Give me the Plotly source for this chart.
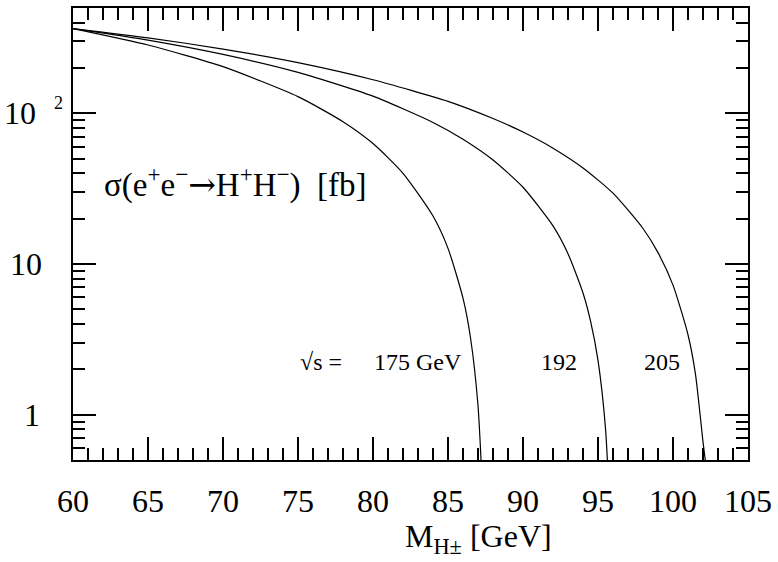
import plotly.graph_objects as go

# M_H+- [GeV] and sigma [fb] for the three c.m. energies
m_175 = [60, 65, 70, 75, 78, 80, 82, 84, 85, 86, 86.5, 87, 87.3]
s_175 = [365, 284, 204, 129, 88, 63, 40, 20.8, 12.7, 5.93, 3.24, 1.15, 0.31]

m_192 = [60, 65, 70, 75, 80, 84, 86, 88, 90, 92, 93, 94, 94.5, 95, 95.5, 95.8]
s_192 = [365, 306, 246, 187, 130, 87, 67.3, 49.0, 32.3, 17.9, 11.7, 6.42, 4.19, 2.29, 0.81, 0.216]

m_205 = [60, 65, 70, 75, 80, 85, 88, 90, 92, 94, 96, 98, 99, 100, 101, 101.5, 102, 102.2]
s_205 = [365, 317, 267, 217, 167, 120, 92.3, 75.1, 58.7, 43.4, 29.5, 17.2, 11.9, 7.24, 3.39, 1.85, 0.66, 0.456]

x_ticks = [60, 65, 70, 75, 80, 85, 90, 95, 100, 105]
x_minor = list(range(60, 106))
y_major = [1, 10, 100]
y_minor = [0.6, 0.7, 0.8, 0.9, 2, 3, 4, 5, 6, 7, 8, 9, 20, 30, 40, 50, 60, 70, 80, 90, 200, 300, 400]
energy_labels = ["175 GeV", "192", "205"]

FONT = "Liberation Serif, Times New Roman, serif"

fig = go.Figure()
for m, s in [(m_175, s_175), (m_192, s_192), (m_205, s_205)]:
    fig.add_trace(go.Scatter(x=m, y=s, mode="lines",
                             line=dict(color="black", width=1.2, shape="spline", smoothing=0.6),
                             hoverinfo="skip"))

W0, W1 = 72.7, 752.7
T0, T1 = 6, 460
def px(xp):
    return (xp - W0) / (W1 - W0)
def py(yp):
    return 1 - (yp - T0) / (T1 - T0)

fig.update_layout(
    width=778, height=562,
    margin=dict(l=73, r=25, t=6, b=102),
    plot_bgcolor="white", paper_bgcolor="white",
    showlegend=False,
    font=dict(family=FONT, color="black"),
    xaxis=dict(range=[60, 105], tickvals=x_ticks, ticks="inside", ticklen=23, tickwidth=2,
               tickcolor="black", showline=True, linewidth=2, linecolor="black", mirror="ticks",
               showgrid=False, zeroline=False, tickfont=dict(size=32, family=FONT),
               ticklabelstandoff=12,
               minor=dict(tickvals=x_minor, ticks="inside", ticklen=12, tickwidth=2,
                          tickcolor="black", showgrid=False)),
    yaxis=dict(type="log", range=[-0.30103, 2.69897], tickvals=y_major, ticks="inside",
               ticklen=23, tickwidth=2, tickcolor="black", showline=True, linewidth=2,
               linecolor="black", mirror="ticks", showgrid=False, zeroline=False,
               showticklabels=False,
               minor=dict(tickvals=y_minor, ticks="inside", ticklen=12, tickwidth=2,
                          tickcolor="black", showgrid=False)),
)

ann = []
# y tick labels
ann.append(dict(text="1", xref="paper", yref="y", x=px(41), y=0, xanchor="right", yanchor="middle",
                showarrow=False, font=dict(size=32, family=FONT)))
ann.append(dict(text="10", xref="paper", yref="y", x=px(43.5), y=1, xanchor="right", yanchor="middle",
                showarrow=False, font=dict(size=32, family=FONT)))
ann.append(dict(text="10", xref="paper", yref="y", x=px(37.5), y=2, xanchor="right", yanchor="middle",
                showarrow=False, font=dict(size=32, family=FONT)))
ann.append(dict(text="2", xref="paper", yref="paper", x=px(52), y=py(101), xanchor="left", yanchor="middle",
                showarrow=False, font=dict(size=18, family=FONT)))
# sigma label
ann.append(dict(text="σ(e<sup>+</sup>e<sup>−</sup><span style=\"font-family:DejaVu Serif\">→</span>H<sup>+</sup>H<sup>−</sup>)  [fb]",
                xref="paper", yref="paper", x=px(102), y=py(181), xanchor="left", yanchor="middle",
                showarrow=False, font=dict(size=33, family=FONT)))
# energy labels
ann.append(dict(text="√s =", xref="paper", yref="paper", x=px(299), y=py(362), xanchor="left",
                yanchor="middle", showarrow=False, font=dict(size=24, family=FONT)))
for lab, xl in zip(energy_labels, [374, 542, 646]):
    ann.append(dict(text=lab, xref="paper", yref="paper", x=px(xl), y=py(362), xanchor="left",
                    yanchor="middle", showarrow=False, font=dict(size=24, family=FONT)))
# x title
ann.append(dict(text="M<sub>H±</sub> [GeV]", xref="paper", yref="paper", x=px(405), y=py(516),
                xanchor="left", yanchor="top", showarrow=False, font=dict(size=32, family=FONT)))
fig.update_layout(annotations=ann)

fig.write_html("out.html", config={"displayModeBar": False},
               post_script="document.body.style.margin='0';")
